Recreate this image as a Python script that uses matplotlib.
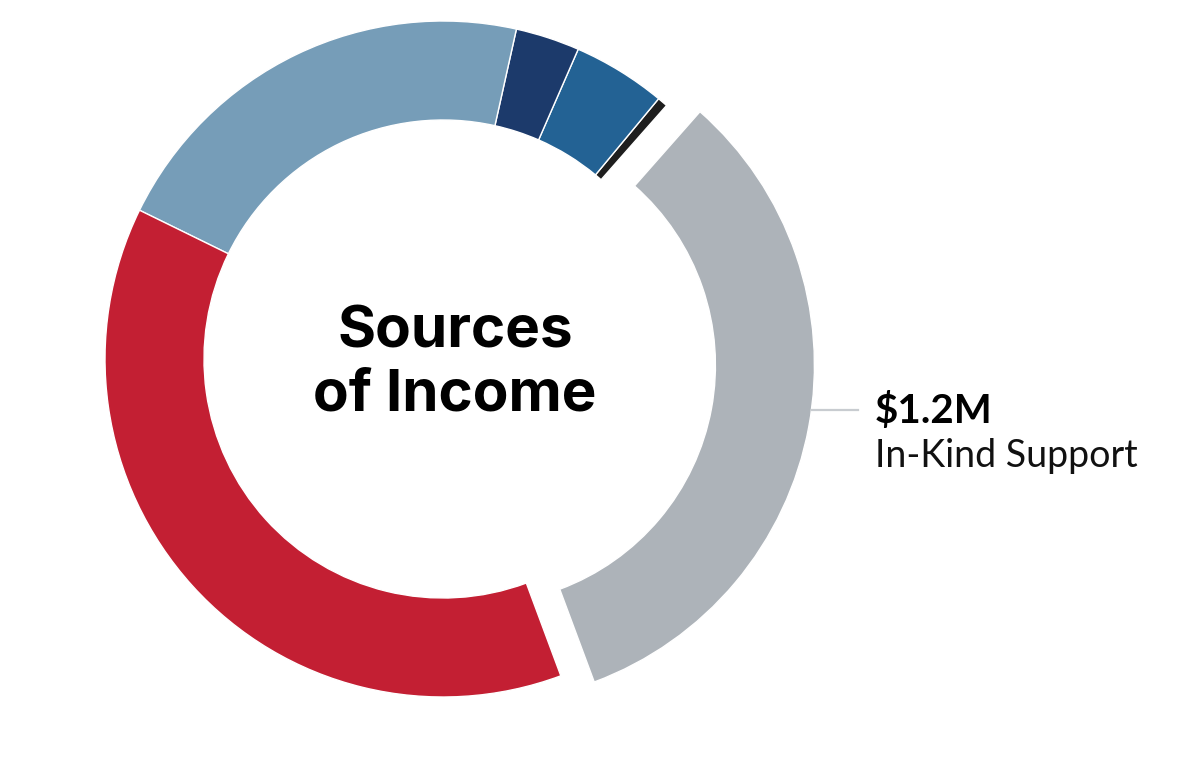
import matplotlib.pyplot as plt

# Datos (millones de dólares), en orden antihorario desde el borde inferior del gris
fuentes = ['In-Kind Support', 'Otra A', 'Otra B', 'Otra C', 'Otra D', 'Otra E']
valores = [1.20, 0.018, 0.163, 0.112, 0.776, 1.386]
colores = ['#adb3b9', '#1e1e1e', '#236294', '#1c3a6b', '#769db8', '#c31f33']
separar = [34, 0, 0, 0, 0, 0]  # en píxeles (unidades de datos)

titulo = 'Sources\nof Income'
etiqueta_valor = '$1.2M'
etiqueta_nombre = 'In-Kind Support'

fig = plt.figure(figsize=(12, 7.6), dpi=100)
ax = fig.add_axes([0, 0, 1, 1])

cx, cy, R = 443, 760 - 359, 338

ax.pie(valores, colors=colores, explode=separar, startangle=-69.6,
       counterclock=True, center=(cx, cy), radius=R, frame=True,
       wedgeprops=dict(width=99, edgecolor='white', linewidth=1))
ax.set_xlim(0, 1200)
ax.set_ylim(0, 760)
ax.set_aspect('equal')
ax.axis('off')

# Texto central
ax.text(455, 760 - 364, titulo, ha='center', va='center', fontsize=42,
        fontweight='bold', family='Inter', linespacing=1.2, color='black')

# Etiqueta del segmento gris
ax.plot([812, 858], [760 - 410, 760 - 410], color='#c8ccd0', lw=1.6)
ax.text(875, 760 - 423, etiqueta_valor, ha='left', va='baseline', fontsize=29,
        fontweight='bold', family='Lato', color='black')
ax.text(875, 760 - 467, etiqueta_nombre, ha='left', va='baseline', fontsize=27,
        family='Lato', color='#111111')

fig.savefig('out.png', dpi=100)
